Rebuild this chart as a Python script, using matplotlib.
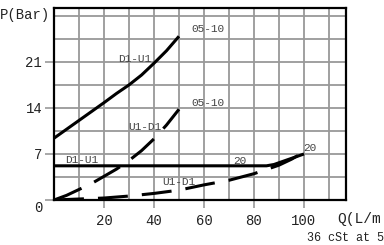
import matplotlib
matplotlib.use("Agg")
import matplotlib.pyplot as plt
import matplotlib.transforms as mtransforms

# flow (L/min) vs pressure (bar)
q_d1u1_0510 = [0, 5, 10, 15, 20, 25, 30, 35, 40, 45, 50]
p_d1u1_0510 = [9.4, 10.75, 12.1, 13.45, 14.8, 16.2, 17.5, 19.0, 20.8, 22.7, 24.9]

q_u1d1_0510 = [0, 5, 10, 15, 20, 25, 30, 35, 40, 45, 50]
p_u1d1_0510 = [0, 0.7, 1.6, 2.5, 3.6, 4.7, 6.0, 7.5, 9.3, 11.4, 13.8]

q_d1u1_20 = [0, 85, 88, 91, 94, 97, 100]
p_d1u1_20 = [5.2, 5.2, 5.4, 5.8, 6.2, 6.6, 7.0]

q_u1d1_20 = [0, 10, 20, 30, 40, 50, 60, 70, 80, 90, 95, 100]
p_u1d1_20 = [0, 0.15, 0.3, 0.6, 1.0, 1.5, 2.3, 3.0, 4.0, 5.3, 6.2, 7.3]

x_ticks = [20, 40, 60, 80, 100]
y_ticks = [0, 7, 14, 21]

# curve labels: (text, x, y)
labels = [
    ("05-10", 54.8, 26.0),
    ("D1-U1", 25.6, 21.4),
    ("05-10", 54.8, 14.7),
    ("U1-D1", 29.6, 11.1),
    ("D1-U1", 4.4, 6.1),
    ("U1-D1", 43.2, 2.7),
    ("20", 71.6, 5.9),
    ("20", 99.6, 7.9),
]

mono = "Liberation Mono"
grey = "#999999"

fig = plt.figure(figsize=(3.84, 2.45), dpi=100)
ax = fig.add_axes([54 / 384, 45 / 245, 292 / 384, 192 / 245])

lw = 2.2
dash = (9.8, 4.6)
ax.plot(q_d1u1_0510, p_d1u1_0510, color="black", lw=lw, solid_capstyle="butt")
ax.plot(q_u1d1_0510, p_u1d1_0510, color="black", lw=lw, dashes=dash)
ax.plot(q_d1u1_20, p_d1u1_20, color="black", lw=lw, solid_capstyle="butt")
ax.plot(q_u1d1_20, p_u1d1_20, color="black", lw=lw, dashes=dash)

for txt, x, y in labels:
    ax.text(x, y, txt, fontsize=8, family=mono, color="#444444",
            ha="left", va="center")

ax.set_xlim(0, 116.8)
ax.set_ylim(0, 29.2)

# grid every 10 L/min and 3.5 bar
for gx in range(10, 120, 10):
    ax.axvline(gx, color=grey, lw=1.3, zorder=0)
gy = 3.5
while gy < 29:
    ax.axhline(gy, color=grey, lw=1.3, zorder=0)
    gy += 3.5

ax.set_xticks(x_ticks)
ax.set_yticks(y_ticks)
ax.tick_params(axis="both", direction="out", color=grey, width=1.2,
               labelsize=10, labelcolor="#222222")
ax.tick_params(axis="y", length=6.5, pad=2)
ax.tick_params(axis="x", length=6, pad=4)
for lab in ax.get_xticklabels() + ax.get_yticklabels():
    lab.set_family(mono)

# the "0" label sits a little below the axis in the original
zero_lab = ax.get_yticklabels()[0]
zero_lab.set_transform(zero_lab.get_transform() +
                       mtransforms.ScaledTranslation(0, -6 / 100, fig.dpi_scale_trans))

for s in ax.spines.values():
    s.set_linewidth(1.6)
    s.set_color("black")

fig.text(0 / 384, 1 - 15 / 245, "P(Bar)", fontsize=10, family=mono,
         ha="left", va="center", color="#222222")
fig.text(337 / 384, 1 - 219 / 245, "Q(L/m", fontsize=10.5, family=mono,
         ha="left", va="center", color="#222222")
fig.text(307 / 384, 1 - 238 / 245, "36 cSt at 5", fontsize=8.5, family=mono,
         ha="left", va="center", color="#222222")

fig.savefig("out.png", dpi=100)
